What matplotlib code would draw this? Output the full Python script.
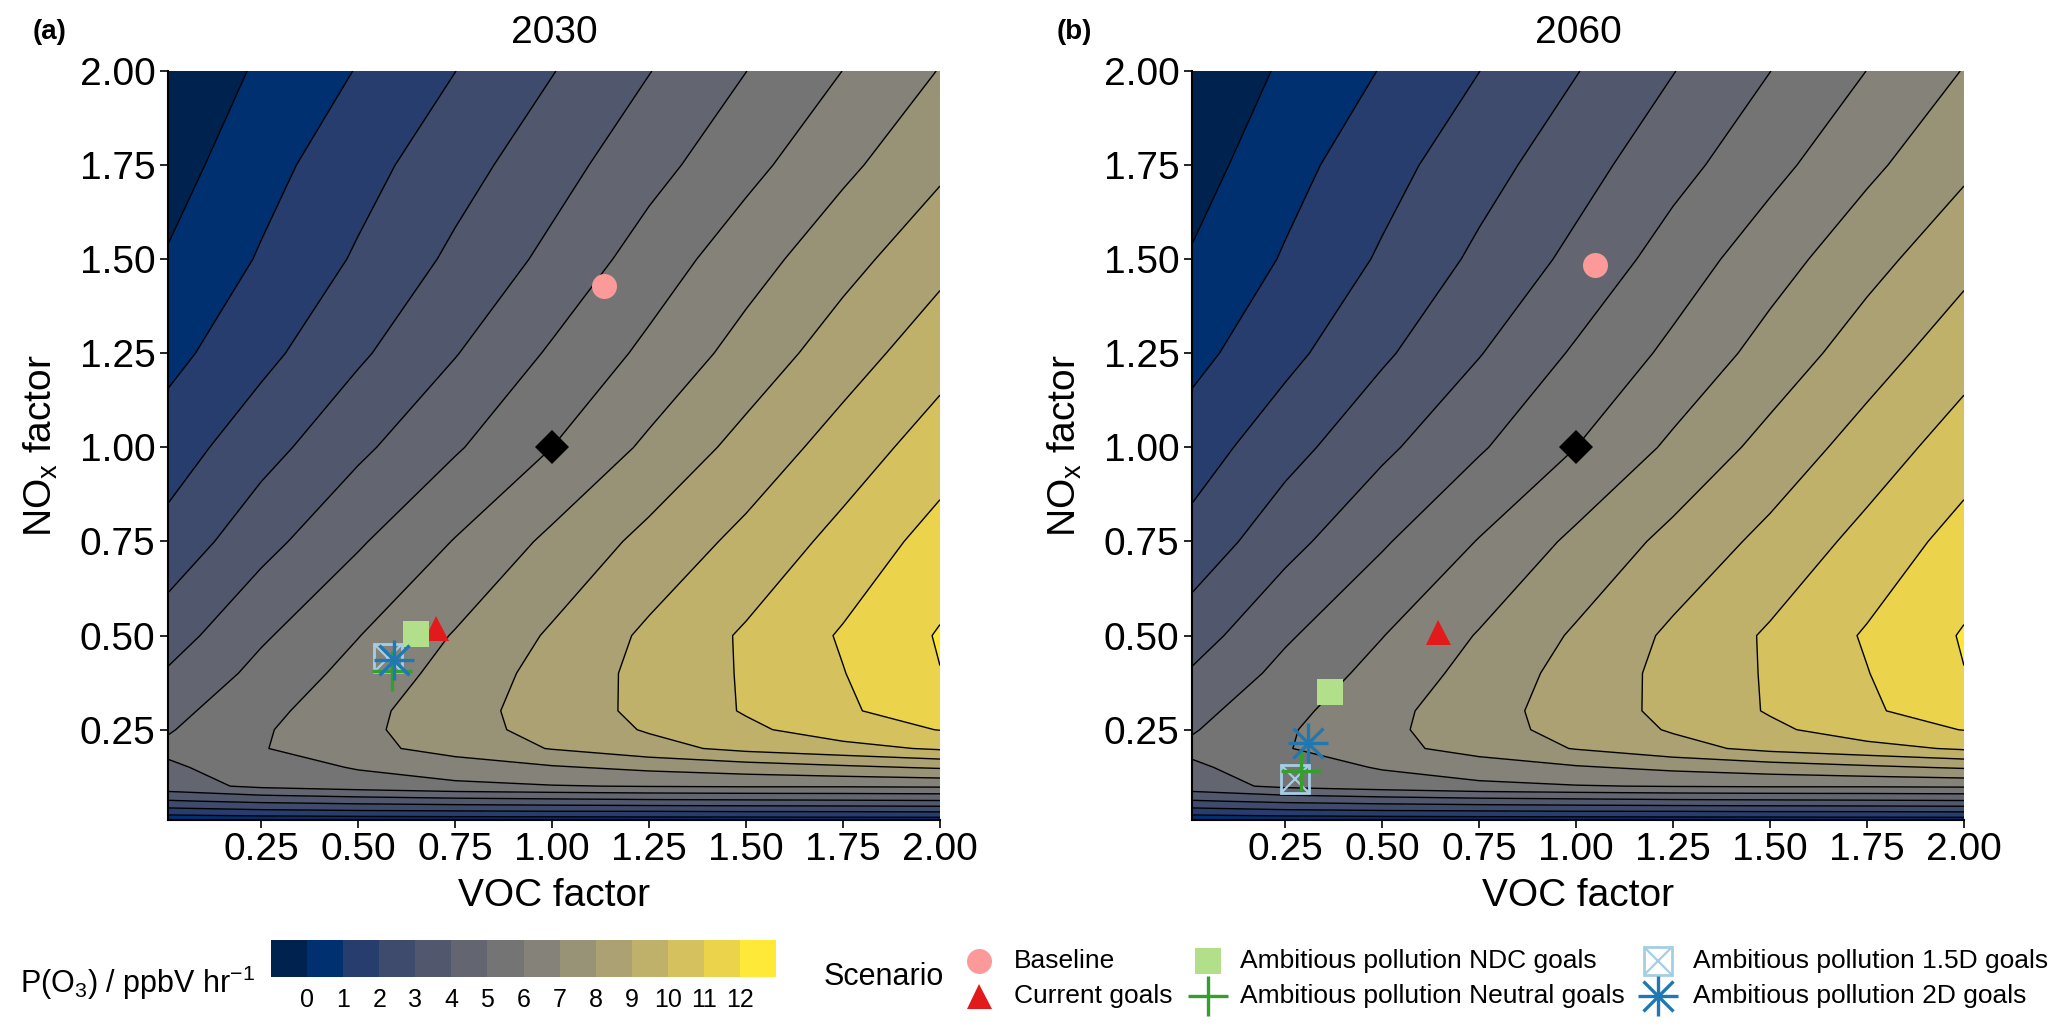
import numpy as np
import matplotlib
matplotlib.use("Agg")
import matplotlib.pyplot as plt

plt.rcParams['font.family'] = ['Liberation Sans', 'DejaVu Sans']
plt.rcParams['mathtext.default'] = 'regular'

# ---------------- data ----------------
voc_factor = [0.01, 0.25, 0.50, 0.75, 1.00, 1.25, 1.50, 1.75, 2.00]
nox_factor = [0.01, 0.03, 0.06, 0.10, 0.15, 0.20, 0.25, 0.30, 0.40,
              0.50, 0.75, 1.00, 1.25, 1.50, 1.75, 2.00]
# P(O3) (ppbV/hr); one row per NOx factor, one column per VOC factor
po3_rate = [
    [0.20, 0.30, 0.35, 0.40, 0.40, 0.45, 0.45, 0.50, 0.50],
    [1.40, 1.60, 1.70, 1.75, 1.80, 1.80, 1.85, 1.85, 1.90],
    [2.90, 3.20, 3.40, 3.55, 3.65, 3.75, 3.80, 3.85, 3.90],
    [4.60, 5.20, 5.50, 5.80, 5.95, 6.05, 6.10, 6.10, 6.15],
    [4.85, 5.50, 6.08, 6.49, 6.90, 7.23, 7.52, 7.82, 8.12],
    [5.20, 5.94, 6.69, 7.39, 8.05, 8.66, 9.27, 9.67, 10.13],
    [4.92, 5.88, 6.76, 7.59, 8.36, 9.09, 9.80, 10.53, 11.03],
    [4.69, 5.70, 6.69, 7.60, 8.45, 9.26, 10.08, 10.85, 11.60],
    [4.10, 5.29, 6.34, 7.36, 8.37, 9.29, 10.10, 10.97, 11.98],
    [3.55, 4.86, 5.97, 7.07, 8.13, 9.19, 10.13, 11.10, 12.08],
    [2.34, 3.66, 4.88, 6.05, 7.22, 8.29, 9.28, 10.32, 11.40],
    [1.50, 2.62, 3.79, 4.89, 6.00, 7.19, 8.34, 9.44, 10.50],
    [0.70, 1.72, 2.84, 3.95, 5.13, 6.23, 7.38, 8.52, 9.60],
    [0.08, 1.09, 2.12, 3.20, 4.25, 5.45, 6.57, 7.65, 8.70],
    [-0.42, 0.64, 1.63, 2.60, 3.60, 4.65, 5.70, 6.78, 7.80],
    [-0.85, 0.15, 1.05, 1.99, 2.96, 3.97, 4.99, 6.01, 7.04],
]
contour_levels = list(range(-1, 14))
colorbar_ticks = list(range(0, 13))

axis_ticks = [0.25, 0.50, 0.75, 1.00, 1.25, 1.50, 1.75, 2.00]
axis_tick_labels = ["0.25", "0.50", "0.75", "1.00", "1.25", "1.50", "1.75", "2.00"]

panel_years = ["2030", "2060"]
panel_tags = ["(a)", "(b)"]

scenarios = ["Baseline", "Current goals", "Ambitious pollution NDC goals",
             "Ambitious pollution Neutral goals", "Ambitious pollution 1.5D goals",
             "Ambitious pollution 2D goals"]
voc_2030 = [1.133, 0.700, 0.648, 0.588, 0.578, 0.593]
nox_2030 = [1.430, 0.520, 0.504, 0.405, 0.440, 0.436]
voc_2060 = [1.050, 0.645, 0.365, 0.290, 0.275, 0.310]
nox_2060 = [1.485, 0.510, 0.350, 0.140, 0.120, 0.215]
reference_voc = [1.0]
reference_nox = [1.0]

# ---------------- styles ----------------
W, H = 2067, 1033
fig = plt.figure(figsize=(W / 100, H / 100), dpi=100)
fill_colors = plt.get_cmap('cividis')(np.linspace(0, 1, len(contour_levels) - 1))

styles = {
    "Baseline": [dict(marker='o', color='#FB9A99', ms=18, mew=0)],
    "Current goals": [dict(marker='^', color='#E31A1C', ms=18, mew=0)],
    "Ambitious pollution NDC goals": [dict(marker='s', color='#B2DF8A', ms=19, mew=0)],
    "Ambitious pollution Neutral goals": [dict(marker='+', color='#33A02C', ms=29, mew=2.4)],
    "Ambitious pollution 1.5D goals": [dict(marker='s', color='#A6CEE3', mfc='none', ms=20, mew=2.0),
                                       dict(marker='x', color='#A6CEE3', ms=20, mew=1.6)],
    "Ambitious pollution 2D goals": [dict(marker='+', color='#1F78B4', ms=29, mew=2.4),
                                     dict(marker='x', color='#1F78B4', ms=21, mew=2.4)],
}
draw_order = ["Baseline", "Current goals", "Ambitious pollution NDC goals",
              "Ambitious pollution 1.5D goals", "Ambitious pollution Neutral goals",
              "Ambitious pollution 2D goals"]

X, Y = np.meshgrid(voc_factor, nox_factor)
Z = np.array(po3_rate)

panel_left = [168, 1192]
px_w, px_top, px_bot = 772, 71, 820
cs_ref = None
for i, (year, tag) in enumerate(zip(panel_years, panel_tags)):
    ax = fig.add_axes([panel_left[i] / W, 1 - px_bot / H, px_w / W, (px_bot - px_top) / H])
    cs = ax.contourf(X, Y, Z, levels=contour_levels, colors=fill_colors)
    ax.contour(X, Y, Z, levels=contour_levels, colors='black', linewidths=1.0)
    if cs_ref is None:
        cs_ref = cs
    vv = voc_2030 if i == 0 else voc_2060
    nn = nox_2030 if i == 0 else nox_2060
    ax.plot(reference_voc, reference_nox, linestyle='none', marker='D', color='black', ms=17, mew=0)
    for name in draw_order:
        k = scenarios.index(name)
        for st in styles[name]:
            ax.plot([vv[k]], [nn[k]], linestyle='none', **st)
    ax.set_xlim(0.01, 2.0)
    ax.set_ylim(0.01, 2.0)
    ax.set_xticks(axis_ticks)
    ax.set_xticklabels(axis_tick_labels)
    ax.set_yticks(axis_ticks)
    ax.set_yticklabels(axis_tick_labels)
    ax.tick_params(labelsize=28, length=6, width=1.2, color='black', pad=3)
    for s in ['top', 'right']:
        ax.spines[s].set_visible(False)
    for s in ['left', 'bottom']:
        ax.spines[s].set_linewidth(1.5)
    ax.set_xlabel('VOC factor', fontsize=28)
    ax.xaxis.set_label_coords(0.5, -(896 - px_bot) / (px_bot - px_top))
    ax.xaxis.label.set_va('center')
    ax.set_ylabel('NO$_x$ factor', fontsize=28)
    ax.yaxis.set_label_coords(-(168 - 41) / px_w, 0.5)
    ax.yaxis.label.set_va('center')
    ax.text(0.5, 1 + (px_top - 33) / (px_bot - px_top), year, transform=ax.transAxes,
            ha='center', va='center', fontsize=28)
    fig.text((panel_left[i] - 135) / W, 1 - 32 / H, tag, ha='left', va='center',
             fontsize=20, fontweight='bold')

# ---------------- colour legend ----------------
cax = fig.add_axes([271 / W, 1 - 977 / H, 505 / W, 37 / H])
cb = fig.colorbar(cs_ref, cax=cax, orientation='horizontal', ticks=colorbar_ticks)
cb.outline.set_visible(False)
cax.tick_params(length=0, labelsize=18, pad=8)
fig.text(20 / W, 1 - 983 / H, 'P(O$_3$) / ppbV hr$^{-1}$', ha='left', va='center', fontsize=22)

# ---------------- scenario legend ----------------
lax = fig.add_axes([0, 0, 1, 1])
lax.set_xlim(0, W)
lax.set_ylim(H, 0)
lax.axis('off')
lax.text(824, 977, 'Scenario', ha='left', va='center', fontsize=22)
legend_marker_x = [979, 979, 1208, 1208, 1658, 1658]
legend_text_x = [1014, 1014, 1240, 1240, 1693, 1693]
legend_row_y = [961, 996, 961, 996, 961, 996]
for k, name in enumerate(scenarios):
    for st in styles[name]:
        lax.plot([legend_marker_x[k]], [legend_row_y[k]], linestyle='none', **st)
    lax.text(legend_text_x[k], legend_row_y[k], name, ha='left', va='center', fontsize=19)

fig.savefig('out.png', dpi=100)
